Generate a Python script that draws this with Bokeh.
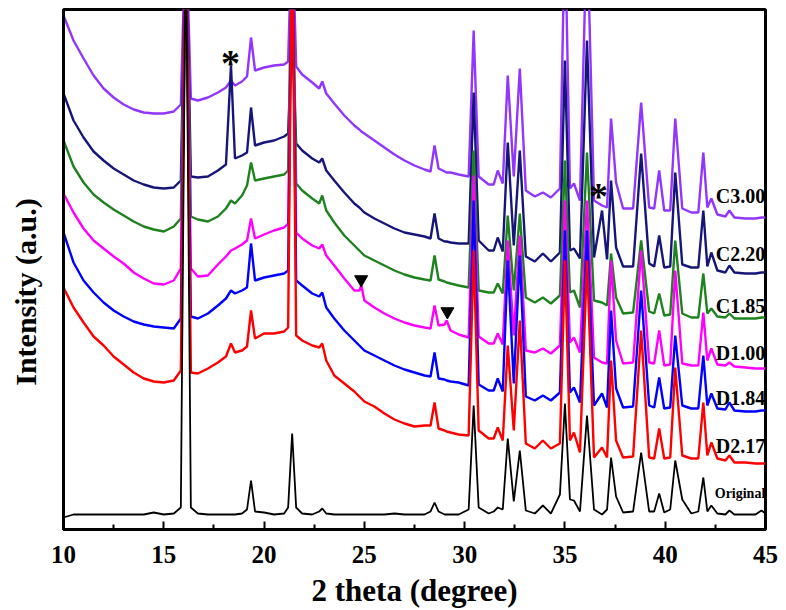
from bokeh.plotting import figure
from bokeh.models import Range1d, FixedTicker
from bokeh.core.properties import value
from bokeh.embed import file_html
from bokeh.resources import INLINE

# 2 theta positions (degree) at which each pattern was read
two_theta = [10.0, 10.5, 11.0, 11.5, 12.0, 12.5, 13.0, 13.5, 14.0, 14.5, 15.0, 15.5, 15.85, 16.1, 16.35,
             16.7, 17.2, 17.7, 18.1, 18.35, 18.55, 18.9, 19.15, 19.35, 19.55, 20.0, 20.5, 21.0, 21.2, 21.4,
             21.6, 21.9, 22.4, 22.75, 22.9, 23.1, 23.5, 24.0, 24.5, 24.75, 24.85, 25.0, 25.5, 26.0, 26.5,
             27.0, 27.5, 28.0, 28.3, 28.5, 28.7, 29.0, 29.1, 29.3, 29.7, 30.2, 30.45, 30.7, 31.2, 31.45,
             31.65, 31.9, 32.15, 32.45, 32.75, 33.05, 33.5, 33.9, 34.3, 34.75, 35.0, 35.25, 35.45, 35.75, 36.1,
             36.45, 36.85, 37.1, 37.3, 37.55, 37.9, 38.4, 38.8, 39.2, 39.45, 39.7, 39.95, 40.25, 40.5, 40.85,
             41.3, 41.65, 41.9, 42.1, 42.3, 42.6, 43.0, 43.2, 43.45, 44.0, 44.5, 44.8, 45.0]

# intensities (a.u., stacked as in the figure)
c300 = [514, 489, 471, 454, 441, 432, 425, 420, 417, 416, 416, 418, 425, 609, 431,
        429, 432, 437, 442, 449, 444, 448, 453, 492, 459, 462, 464, 465, 468, 609,
        463, 455, 447, 441, 448, 436, 426, 414, 404, 400, 398, 396, 389, 382, 375,
        369, 364, 360, 358, 384, 361, 358, 357, 357, 355, 353, 499, 353, 345, 345,
        359, 346, 454, 353, 461, 339, 333, 337, 332, 341, 609, 341, 346, 329, 609,
        329, 324, 322, 411, 347, 321, 321, 427, 322, 321, 359, 319, 319, 411, 321,
        317, 317, 377, 322, 331, 315, 313, 319, 312, 311, 311, 312, 312]
c220 = [436, 409, 392, 378, 369, 361, 355, 349, 345, 342, 341, 342, 349, 609, 353,
        352, 353, 359, 365, 464, 371, 374, 377, 422, 384, 387, 389, 393, 396, 496,
        386, 379, 371, 367, 371, 359, 349, 337, 326, 322, 320, 317, 311, 306, 301,
        297, 295, 293, 291, 316, 291, 288, 288, 287, 286, 286, 437, 289, 279, 279,
        292, 278, 387, 284, 379, 273, 268, 276, 268, 277, 469, 279, 281, 271, 489,
        272, 319, 270, 349, 282, 263, 263, 376, 266, 263, 294, 262, 263, 357, 265,
        262, 262, 319, 263, 277, 259, 257, 264, 257, 256, 256, 257, 257]
c185 = [389, 363, 347, 335, 327, 320, 314, 308, 303, 300, 298, 303, 311, 609, 313,
        310, 308, 313, 321, 329, 326, 334, 344, 367, 349, 351, 353, 355, 359, 609,
        346, 339, 331, 326, 334, 319, 307, 294, 284, 279, 277, 274, 269, 264, 259,
        255, 252, 250, 249, 274, 250, 248, 247, 246, 244, 242, 379, 239, 237, 237,
        246, 236, 314, 239, 316, 232, 227, 232, 226, 234, 369, 237, 239, 222, 377,
        229, 227, 224, 276, 232, 216, 217, 289, 218, 216, 236, 214, 215, 289, 216,
        212, 212, 256, 216, 221, 213, 212, 216, 211, 211, 211, 212, 212]
d100 = [336, 317, 301, 289, 281, 273, 266, 257, 251, 246, 245, 249, 261, 609, 261,
        253, 254, 265, 273, 279, 281, 285, 289, 311, 291, 295, 299, 302, 306, 609,
        297, 291, 284, 281, 285, 274, 264, 251, 239, 239, 244, 229, 222, 216, 211,
        207, 204, 202, 201, 224, 204, 205, 209, 199, 195, 192, 354, 193, 186, 186,
        196, 185, 289, 194, 294, 179, 177, 181, 176, 184, 329, 187, 192, 177, 329,
        172, 167, 166, 269, 189, 166, 167, 279, 167, 166, 199, 164, 165, 259, 166,
        164, 164, 217, 169, 181, 165, 164, 167, 163, 162, 161, 161, 161]
d184 = [297, 267, 249, 237, 227, 219, 213, 208, 205, 203, 202, 201, 211, 609, 213,
        211, 216, 224, 231, 239, 236, 239, 242, 286, 249, 252, 254, 256, 259, 609,
        249, 244, 236, 233, 237, 222, 211, 199, 189, 184, 182, 179, 174, 169, 164,
        160, 157, 154, 153, 177, 151, 150, 149, 148, 147, 144, 329, 145, 139, 139,
        151, 138, 269, 146, 274, 133, 129, 134, 129, 137, 299, 137, 142, 127, 299,
        124, 136, 122, 219, 141, 122, 123, 239, 124, 122, 152, 121, 122, 194, 124,
        121, 121, 174, 124, 136, 121, 120, 127, 119, 118, 118, 119, 119]
d217 = [242, 222, 207, 193, 184, 173, 165, 157, 151, 148, 147, 149, 159, 609, 157,
        156, 161, 167, 173, 186, 177, 179, 183, 219, 191, 196, 196, 198, 202, 609,
        194, 189, 184, 182, 186, 169, 154, 146, 138, 133, 131, 128, 123, 116, 110,
        106, 103, 104, 104, 127, 101, 99, 98, 97, 95, 94, 279, 99, 91, 91,
        102, 89, 184, 99, 209, 86, 81, 89, 81, 86, 269, 89, 97, 77, 269,
        72, 82, 72, 169, 89, 72, 73, 199, 72, 71, 101, 71, 72, 162, 74,
        71, 71, 127, 74, 87, 71, 69, 74, 67, 67, 66, 66, 66]
original = [12, 15, 15, 15, 15, 15, 15, 15, 15, 17, 15, 16, 22, 609, 22,
            16, 15, 15, 15, 15, 15, 16, 20, 49, 18, 17, 15, 16, 22, 96,
            22, 16, 15, 18, 21, 16, 15, 15, 15, 15, 15, 15, 15, 15, 16,
            15, 15, 15, 18, 27, 18, 15, 15, 15, 15, 20, 124, 22, 16, 18,
            22, 20, 91, 28, 79, 19, 16, 24, 16, 35, 126, 30, 29, 18, 114,
            20, 15, 20, 72, 33, 17, 18, 77, 18, 18, 36, 17, 20, 69, 30,
            16, 18, 52, 18, 24, 16, 15, 19, 15, 15, 15, 19, 16]

series_names = ["C3.00", "C2.20", "C1.85", "D1.00", "D1.84", "D2.17", "Original"]
series_values = [c300, c220, c185, d100, d184, d217, original]
series_colors = ["#9135FF", "#16167A", "#1E821E", "#FF00FF", "#0000FF", "#FF0000", "#000000"]
label_y = [334, 276, 224, 177, 132, 84, 36]

asterisk_x = [18.33, 36.67]
asterisk_y = [474, 341]
triangle_x = [24.84, 29.14]
triangle_y = [250, 218]

x_ticks = [10, 15, 20, 25, 30, 35, 40, 45]
x_minor = [12.5, 17.5, 22.5, 27.5, 32.5, 37.5, 42.5]

SERIF = "Liberation Serif"

p = figure(width=786, height=610, output_backend="svg", toolbar_location=None,
           x_range=Range1d(10, 45), y_range=Range1d(0, 520),
           min_border_left=63, min_border_right=21, min_border_top=9, min_border_bottom=81)
p.background_fill_color = "white"
p.border_fill_color = "white"
p.outline_line_color = "black"
p.outline_line_width = 3
p.xgrid.visible = False
p.ygrid.visible = False

for vals, col in zip(series_values, series_colors):
    p.line(two_theta, vals, line_color=col, line_width=1.8 if col == "#000000" else 2.4)

p.text(x=[44.99] * 7, y=label_y, text=series_names, text_align="right", text_baseline="middle",
       text_font=value(SERIF), text_font_style="bold",
       text_font_size=["20px"] * 6 + ["14px"], text_color="black")

p.text(x=asterisk_x, y=asterisk_y, text=["*", "*"], text_align="center", text_baseline="middle",
       text_font=value(SERIF), text_font_style="bold", text_font_size="38px", y_offset=7,
       text_color="black")
p.scatter(triangle_x, triangle_y, marker="inverted_triangle", size=13, fill_color="black",
          line_color="black")

xa = p.xaxis[0]
xa.ticker = FixedTicker(ticks=x_ticks, minor_ticks=x_minor)
xa.axis_label = "2 theta (degree)"
xa.axis_label_text_font = SERIF
xa.axis_label_text_font_style = "bold"
xa.axis_label_text_font_size = "31px"
xa.axis_label_text_color = "black"
xa.axis_label_standoff = 7
xa.major_label_text_font = SERIF
xa.major_label_text_font_style = "bold"
xa.major_label_text_font_size = "25px"
xa.major_label_text_color = "black"
xa.major_label_standoff = 16
xa.axis_line_width = 3
xa.axis_line_color = "black"
xa.major_tick_in = 8
xa.major_tick_out = 0
xa.minor_tick_in = 5
xa.minor_tick_out = 0
xa.major_tick_line_width = 2
xa.minor_tick_line_width = 2
xa.major_tick_line_color = "black"
xa.minor_tick_line_color = "black"

ya = p.yaxis[0]
ya.ticker = FixedTicker(ticks=[])
# non-breaking spaces push the title a little below the frame centre, as in the original
ya.axis_label = "Intensity (a.u.)" + "\u00a0" * 6
ya.axis_label_text_font = SERIF
ya.axis_label_text_font_style = "bold"
ya.axis_label_text_font_size = "30px"
ya.axis_label_text_color = "black"
ya.axis_label_standoff = 22
ya.major_tick_in = 0
ya.major_tick_out = 0
ya.minor_tick_in = 0
ya.minor_tick_out = 0
ya.major_label_standoff = 0
ya.axis_line_width = 3
ya.axis_line_color = "black"

open("out.html", "w").write(file_html(p, INLINE))
